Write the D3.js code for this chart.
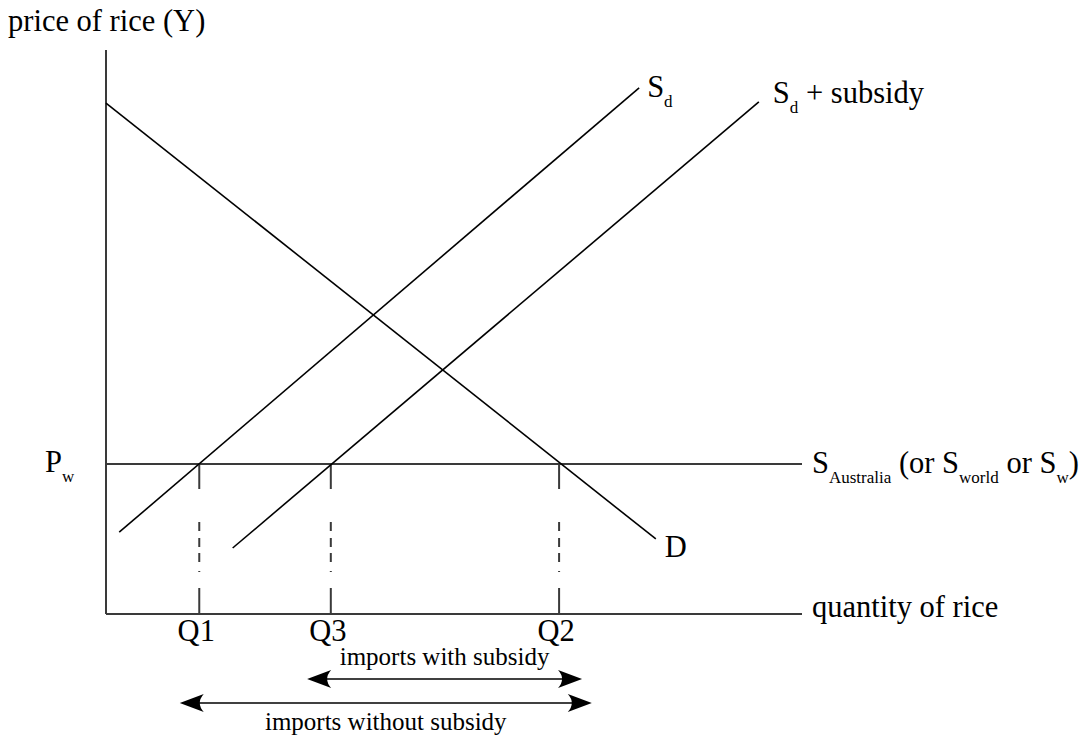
<!DOCTYPE html>
<html>
<head>
<meta charset="utf-8">
<script src="https://cdn.jsdelivr.net/npm/d3@7"></script>
<style>
  body { margin: 0; background: #fff; }
  text { font-family: "Liberation Serif", "Times New Roman", serif; fill: #000; }
</style>
</head>
<body>
<div id="chart"></div>
<script>
// curves, as [quantity, price] end points
var demand = [[0, 90.6], [79.0, 13.3]];
var supplyDomestic = [[1.9, 14.5], [76.6, 93.3]];
var supplySubsidy = [[18.2, 11.7], [93.8, 90.8]];
var worldPrice = 26.6;

// quantities marked on the x axis
var qNames = ["Q1", "Q3", "Q2"];
var qValues = [13.4, 32.3, 65.1];

// import spans (arrows under the axis)
var importsWith = [28.9, 68.4];
var importsWithout = [10.6, 69.8];

var W = 1091, H = 736;
var svg = d3.select("#chart").append("svg")
    .attr("width", W)
    .attr("height", H);

var x = d3.scaleLinear().domain([0, 100]).range([106, 802]);
var y = d3.scaleLinear().domain([0, 100]).range([614, 50]);

var axisColor = "#3a3a3a";

// axes
svg.append("line")
    .attr("x1", x(0)).attr("x2", x(0))
    .attr("y1", y(100)).attr("y2", y(0))
    .attr("stroke", axisColor).attr("stroke-width", 2);
svg.append("line")
    .attr("x1", x(0)).attr("x2", x(100))
    .attr("y1", y(0)).attr("y2", y(0))
    .attr("stroke", axisColor).attr("stroke-width", 2);

// world price line
svg.append("line")
    .attr("x1", x(0)).attr("x2", x(100))
    .attr("y1", y(worldPrice)).attr("y2", y(worldPrice))
    .attr("stroke", axisColor).attr("stroke-width", 2);

// drop lines at Q1, Q3, Q2
svg.selectAll(".drop")
  .data(qValues)
  .enter()
  .append("line")
    .attr("class", "drop")
    .attr("x1", function(d) { return x(d); })
    .attr("x2", function(d) { return x(d); })
    .attr("y1", y(worldPrice))
    .attr("y2", y(0))
    .attr("stroke", axisColor)
    .attr("stroke-width", 2)
    .attr("stroke-dasharray", "25 33 9 7 9 6 9 9 1 16 26");

// supply and demand curves
var line = d3.line()
    .x(function(d) { return x(d[0]); })
    .y(function(d) { return y(d[1]); });

[demand, supplyDomestic, supplySubsidy].forEach(function(c) {
  svg.append("path")
      .attr("d", line(c))
      .attr("fill", "none")
      .attr("stroke", "#000")
      .attr("stroke-width", 1.6);
});

// text with subscripts; parts = [[text, isSub], ...]
function label(px, py, parts, size, anchor) {
  var t = svg.append("text")
      .attr("x", px).attr("y", py)
      .attr("font-size", size)
      .attr("text-anchor", anchor || "start");
  var low = false;
  parts.forEach(function(p) {
    var s = t.append("tspan").text(p[0]);
    if (p[1]) {
      s.attr("font-size", 17).attr("dy", low ? 0 : 10);
      low = true;
    } else {
      s.attr("dy", low ? -10 : 0);
      low = false;
    }
  });
  return t;
}

label(8, 31, [["price of rice (Y)"]], 30.5);
label(812, 617, [["quantity of rice"]], 30.5);
label(45, 472, [["P"], ["w", 1]], 30.5);
label(812, 473, [["S"], ["Australia", 1], [" (or S"], ["world", 1], [" or S"], ["w", 1], [")"]], 30.5);
label(x(demand[1][0]) + 9, y(demand[1][1]) + 18, [["D"]], 30.5);
label(x(supplyDomestic[1][0]) + 8, y(supplyDomestic[1][1]) + 9, [["S"], ["d", 1]], 30.5);
label(x(supplySubsidy[1][0]) + 14, y(supplySubsidy[1][1]) + 1, [["S"], ["d", 1], [" + subsidy"]], 30.5);

svg.selectAll(".qlab")
  .data(qValues)
  .enter()
  .append("text")
    .attr("class", "qlab")
    .attr("x", function(d) { return x(d) - 3; })
    .attr("y", 641)
    .attr("font-size", 30.5)
    .attr("text-anchor", "middle")
    .text(function(d, i) { return qNames[i]; });

// double headed arrows
function head(tx, ty, dir) {
  // dir = +1 head points right, -1 points left
  var b = tx - dir * 24, n = tx - dir * 16;
  svg.append("path")
      .attr("d", "M" + tx + "," + ty + " L" + b + "," + (ty - 9) +
                 " Q" + n + "," + ty + " " + b + "," + (ty + 9) + " Z")
      .attr("fill", "#000");
}
function arrow(span, ay, text, ty) {
  var a = x(span[0]), b = x(span[1]);
  svg.append("line")
      .attr("x1", a + 10).attr("x2", b - 10)
      .attr("y1", ay).attr("y2", ay)
      .attr("stroke", "#000").attr("stroke-width", 1.6);
  head(a, ay, -1);
  head(b, ay, 1);
  svg.append("text")
      .attr("x", (a + b) / 2)
      .attr("y", ty)
      .attr("font-size", 25)
      .attr("text-anchor", "middle")
      .text(text);
}
arrow(importsWith, 679, "imports with subsidy", 665);
arrow(importsWithout, 703, "imports without subsidy", 730);
</script>
</body>
</html>
